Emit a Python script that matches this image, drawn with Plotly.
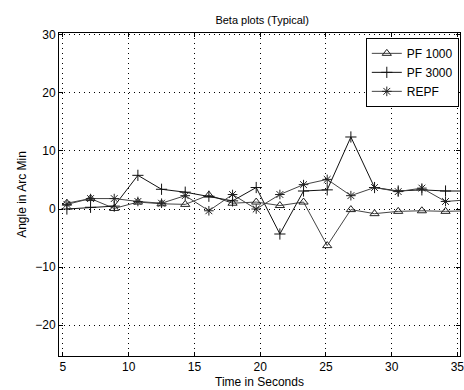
import plotly.graph_objects as go

time_s = [5.3, 7.1, 8.9, 10.7, 12.5, 14.3, 16.1, 17.9, 19.7, 21.5, 23.3, 25.1, 26.9, 28.7, 30.5, 32.3, 34.1, 35.9]
pf1000 = [1.0, 1.8, 0.1, 1.2, 0.9, 0.8, 2.4, 1.0, 1.2, 0.6, 1.2, -6.3, -0.1, -0.8, -0.4, -0.3, -0.4, -0.3]
pf3000 = [0.0, 0.3, 0.5, 5.8, 3.4, 2.9, 2.2, 1.4, 3.7, -4.3, 3.1, 3.3, 12.4, 3.7, 3.1, 3.3, 3.1, 3.1]
repf = [0.8, 1.8, 1.8, 1.3, 1.0, 2.3, -0.3, 2.5, 0.0, 2.5, 4.2, 5.1, 2.3, 3.7, 3.0, 3.6, 1.3, 1.6]

x_ticks = [5, 10, 15, 20, 25, 30, 35]
y_ticks = [-20, -10, 0, 10, 20, 30]

FONT = "Liberation Sans, Arial, sans-serif"

fig = go.Figure()
fig.add_trace(go.Scatter(
    x=time_s, y=pf1000, name="PF 1000", mode="lines+markers",
    line=dict(color="#444", width=1),
    marker=dict(symbol="triangle-up-open", size=8, color="#222", line=dict(width=1)),
))
fig.add_trace(go.Scatter(
    x=time_s, y=pf3000, name="PF 3000", mode="lines+markers",
    line=dict(color="#111", width=1),
    marker=dict(symbol="cross-thin", size=8, color="#111", line=dict(width=1, color="#111")),
))
fig.add_trace(go.Scatter(
    x=time_s, y=repf, name="REPF", mode="lines+markers",
    line=dict(color="#444", width=1),
    marker=dict(symbol="asterisk", size=8, color="#222", line=dict(width=1, color="#222")),
))

axis_common = dict(
    showline=True, linecolor="black", linewidth=1, mirror="ticks",
    ticks="inside", ticklen=4, tickcolor="black",
    showgrid=True, gridcolor="black", gridwidth=1, griddash="1px,4px",
    zeroline=False, tickfont=dict(family=FONT, size=12, color="black"),
    ticklabeloverflow="allow",
)

fig.update_xaxes(
    range=[4.7, 35.2], tickvals=x_ticks, ticktext=[str(v) for v in x_ticks],
    title=dict(text="Time in Seconds", font=dict(family=FONT, size=12, color="black"), standoff=4),
    **axis_common,
)
fig.update_yaxes(
    range=[-25.3, 30.3], tickvals=y_ticks, ticktext=[("\u2212" + str(-v)) if v < 0 else str(v) for v in y_ticks],
    title=dict(text="Angle in Arc Min", font=dict(family=FONT, size=12, color="black"), standoff=6),
    **axis_common,
)

fig.update_layout(
    width=464, height=390,
    margin=dict(l=59, r=0, t=33, b=34),
    paper_bgcolor="white", plot_bgcolor="white",
    title=dict(text="Beta plots (Typical)", x=0.565, xanchor="center", y=0.949, yanchor="middle",
               font=dict(family=FONT, size=11, color="black")),
    legend=dict(x=0.997, xanchor="right", y=0.985, yanchor="top",
                bgcolor="white", bordercolor="black", borderwidth=1,
                font=dict(family=FONT, size=12, color="black"),
                tracegroupgap=0, itemwidth=30),
    showlegend=True,
)

fig.write_html("out.html")
